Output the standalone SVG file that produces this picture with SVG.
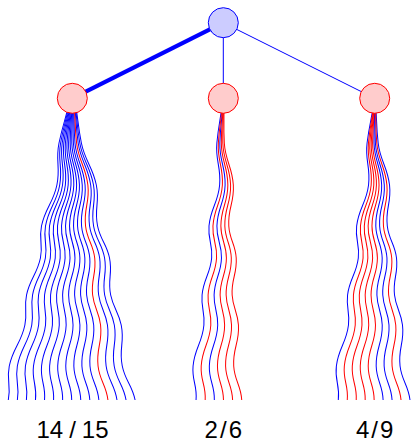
<svg xmlns="http://www.w3.org/2000/svg" width="412" height="445" viewBox="0 0 412 445">
  <style>
    .edge { stroke: #0000ff; fill: none; stroke-linecap: butt; }
    .s { fill: none; stroke-width: 1; }
    .b { stroke: #0000ff; }
    .r { stroke: #ff0000; }
    .root { fill: #ccccff; stroke: #0000ff; stroke-width: 1; }
    .leaf { fill: #ffcccc; stroke: #ff0000; stroke-width: 1; }
    .lbl { font-family: "Liberation Sans", Arial, sans-serif; font-size: 24px; fill: #000000; text-anchor: middle; }
  </style>
  <defs>
    <!-- shared wavy strand profile; each strand skews it so the bundle fans out from its node -->
    <path id="wave" fill="none" d="M0,98 C0,118 -2,123 -2,143 C-2,161 4.5,167 4.5,185 C4.5,203 -2.5,208 -2.5,226 C-2.5,240 3,244 3,258 C3,274 -3.3,279 -3.3,295 C-3.3,308 1.2,312 1.2,325 C1.2,343 -6,348 -6,366 C-6,381 0,385 0,400"/>
  </defs>

  <g id="connectors">
    <line class="edge" x1="223.3" y1="22.7" x2="72.3" y2="98.3" stroke-width="4.2"/>
    <line class="edge" x1="223.3" y1="22.7" x2="223.3" y2="98.3" stroke-width="1"/>
    <line class="edge" x1="223.3" y1="22.7" x2="374.7" y2="98.3" stroke-width="1"/>
  </g>

  <g id="strands">
    <g id="bundle-left">
      <use href="#wave" class="s b" transform="matrix(1 0 -0.20513 1 90.351 0)"/>
      <use href="#wave" class="s b" transform="matrix(1 0 -0.17610 1 87.797 0)"/>
      <use href="#wave" class="s b" transform="matrix(1 0 -0.14707 1 85.242 0)"/>
      <use href="#wave" class="s b" transform="matrix(1 0 -0.11804 1 82.688 0)"/>
      <use href="#wave" class="s b" transform="matrix(1 0 -0.08901 1 80.133 0)"/>
      <use href="#wave" class="s b" transform="matrix(1 0 -0.05998 1 77.578 0)"/>
      <use href="#wave" class="s b" transform="matrix(1 0 -0.03095 1 75.024 0)"/>
      <use href="#wave" class="s b" transform="matrix(1 0 -0.00192 1 72.469 0)"/>
      <use href="#wave" class="s b" transform="matrix(1 0 0.02711 1 69.914 0)"/>
      <use href="#wave" class="s b" transform="matrix(1 0 0.05614 1 67.360 0)"/>
      <use href="#wave" class="s b" transform="matrix(1 0 0.08517 1 64.805 0)"/>
      <use href="#wave" class="s b" transform="matrix(1 0 0.14323 1 59.696 0)"/>
      <use href="#wave" class="s b" transform="matrix(1 0 0.17226 1 57.141 0)"/>
      <use href="#wave" class="s b" transform="matrix(1 0 0.20129 1 54.586 0)"/>
      <use href="#wave" class="s r" transform="matrix(1 0 0.11420 1 62.250 0)"/>
    </g>
    <g id="bundle-middle">
      <use href="#wave" class="s b" transform="matrix(1 0 -0.088755 1 231.554 0)"/>
      <use href="#wave" class="s b" transform="matrix(1 0 -0.029215 1 226.017 0)"/>
      <use href="#wave" class="s r" transform="matrix(1 0 -0.058985 1 228.786 0)"/>
      <use href="#wave" class="s r" transform="matrix(1 0 0.000555 1 223.248 0)"/>
      <use href="#wave" class="s r" transform="matrix(1 0 0.030325 1 220.480 0)"/>
      <use href="#wave" class="s r" transform="matrix(1 0 0.060095 1 217.711 0)"/>
    </g>
    <g id="bundle-right">
      <use href="#wave" class="s b" transform="matrix(1 0 -0.119738 1 386.195 0)"/>
      <use href="#wave" class="s b" transform="matrix(1 0 0.027672 1 372.044 0)"/>
      <use href="#wave" class="s b" transform="matrix(1 0 0.057154 1 369.213 0)"/>
      <use href="#wave" class="s b" transform="matrix(1 0 0.116118 1 363.553 0)"/>
      <use href="#wave" class="s r" transform="matrix(1 0 -0.090256 1 383.365 0)"/>
      <use href="#wave" class="s r" transform="matrix(1 0 -0.060774 1 380.534 0)"/>
      <use href="#wave" class="s r" transform="matrix(1 0 -0.031292 1 377.704 0)"/>
      <use href="#wave" class="s r" transform="matrix(1 0 -0.00181 1 374.874 0)"/>
      <use href="#wave" class="s r" transform="matrix(1 0 0.086636 1 366.383 0)"/>
    </g>
  </g>

  <g id="node-root">
    <circle class="root" cx="223.3" cy="22.7" r="15"/>
  </g>
  <g id="node-left">
    <circle class="leaf" cx="72.3" cy="98.3" r="15"/>
  </g>
  <g id="node-middle">
    <circle class="leaf" cx="223.3" cy="98.3" r="15"/>
  </g>
  <g id="node-right">
    <circle class="leaf" cx="374.7" cy="98.3" r="15"/>
  </g>

  <g id="labels">
    <text class="lbl" x="72.5" y="438">14<tspan dx="6">/</tspan><tspan dx="6">15</tspan></text>
    <text class="lbl" x="223.3" y="438">2<tspan dx="2">/</tspan><tspan dx="2">6</tspan></text>
    <text class="lbl" x="374.7" y="438">4<tspan dx="2">/</tspan><tspan dx="2">9</tspan></text>
  </g>
</svg>
